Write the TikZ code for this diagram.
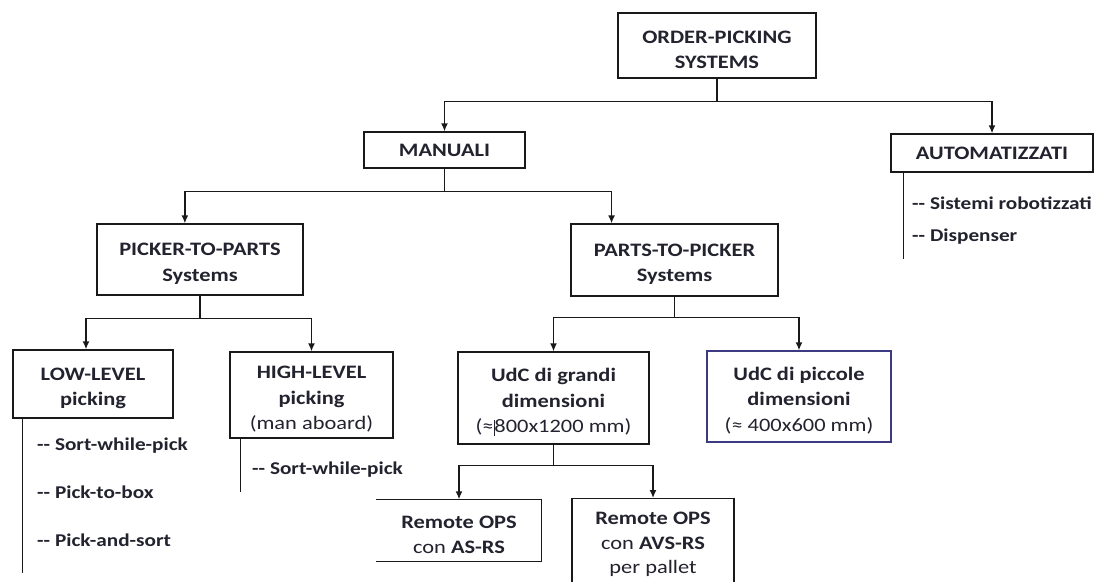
\documentclass[tikz,border=0pt]{standalone}
\usepackage{fontspec}
\setmainfont{Carlito}[FakeStretch=1.18]
\usetikzlibrary{arrows.meta,calc}
\definecolor{ink}{HTML}{23232F}
\definecolor{navy}{HTML}{3C3A82}
% taller first row, so multi-line labels sit a little lower in their boxes
\newcommand{\firstrow}{\rule{0pt}{21pt}}
\tikzset{
  box/.style={draw=black!90, line width=1.4pt, align=center, inner sep=0pt,
    text=ink, font=\bfseries\fontsize{19}{25.5}\selectfont},
  item/.style={anchor=west, inner sep=0pt, text=ink,
    font=\bfseries\fontsize{18}{24}\selectfont},
  link/.style={line width=1.4pt, draw=black!90},
  arr/.style={link, -{Latex[length=8pt,width=7pt]}},
}
\begin{document}
\begin{tikzpicture}[x=1pt,y=-1pt]
\clip (0,0) rectangle (1099,581);
\fill[white] (0,0) rectangle (1099,581);

% boxes
\node[box, minimum width=198pt, minimum height=65pt] (ops) at (717,45.5) {\firstrow ORDER-PICKING\\SYSTEMS};
\node[box, minimum width=161pt, minimum height=36pt] (man) at (444.5,150) {MANUALI};
\node[box, minimum width=202pt, minimum height=38pt] (aut) at (992,153) {AUTOMATIZZATI};
\node[box, minimum width=206pt, minimum height=71pt] (ptp) at (200,259.5) {\firstrow PICKER-TO-PARTS\\Systems};
\node[box, minimum width=207pt, minimum height=72pt] (ptk) at (674.5,260) {\firstrow PARTS-TO-PICKER\\Systems};
\node[box, minimum width=160pt, minimum height=68pt] (low) at (93,384) {\firstrow LOW-LEVEL\\picking};
\node[box, minimum width=163pt, minimum height=86pt] (high) at (311.5,395) {\firstrow HIGH-LEVEL\\picking\\{\mdseries (man aboard)}};
\node[box, minimum width=191pt, minimum height=92pt] (big) at (553.5,398) {\firstrow UdC di grandi\\dimensioni\\{\mdseries (≈\rule[-3pt]{0.8pt}{16pt}800x1200 mm)}};
\node[box, draw=navy, minimum width=184pt, minimum height=91pt] (small) at (799,396.5) {\firstrow UdC di piccole\\dimensioni\\{\mdseries (≈ 400x600 mm)}};
\node[box, draw=none, minimum width=164pt, minimum height=61pt] (asrs) at (459,530.5) {\firstrow Remote OPS\\{\mdseries con} AS-RS};
\node[box, minimum width=162pt, minimum height=92pt, anchor=north,
  font=\bfseries\fontsize{19}{24.5}\selectfont] (avs) at (653,498) {Remote OPS\\{\mdseries con} AVS-RS\\{\mdseries per pallet}};

% box open on its left side
\draw[link] (asrs.north west) -- (asrs.north east) -- (asrs.south east) -- (asrs.south west);

% tree connectors
\draw[arr] (ops.south) -- ++(0,23) -| (man.north);
\draw[arr] (ops.south) -- ++(0,23) -| (aut.north);
\draw[arr] (man.south) -- ++(0,23) -| ($(ptp.north west)!0.427!(ptp.north east)$);
\draw[arr] (man.south) -- ++(0,23) -| ($(ptk.north west)!0.198!(ptk.north east)$);
\draw[arr] (ptp.south) -- ++(0,23) -| ($(low.north)+(-7,0)$);
\draw[arr] (ptp.south) -- ++(0,23) -| (high.north);
\draw[arr] (ptk.south) -- ++(0,21) -| (big.north);
\draw[arr] (ptk.south) -- ++(0,21) -| (small.north);
\draw[arr] (big.south) -- ++(0,21) -| (asrs.north);
\draw[arr] (big.south) -- ++(0,21) -| (avs.north);

% lists
\draw[link] ($(low.south west)+(10,0)$) -- ++(0,154);
\node[item] (l1) at (37,446) {-{}- Sort-while-pick};
\node[item] (l2) at (37,492) {-{}- Pick-to-box};
\node[item] (l3) at (37,540) {-{}- Pick-and-sort};

\draw[link] ($(high.south west)+(11,0)$) -- ++(0,53);
\node[item] (h1) at (252,470) {-{}- Sort-while-pick};

\draw[link] ($(aut.south west)+(13,0)$) -- ++(0,86);
\node[item] (a1) at (912,203) {-{}- Sistemi robotizzati};
\node[item] (a2) at (912,237) {-{}- Dispenser};
\end{tikzpicture}
\end{document}
